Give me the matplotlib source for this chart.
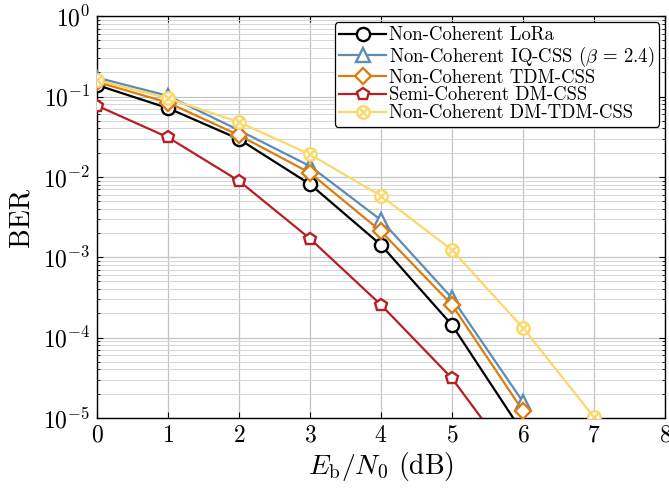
import numpy as np
import matplotlib
matplotlib.use("Agg")
import matplotlib.pyplot as plt
from matplotlib.path import Path
from matplotlib.ticker import LogLocator, NullFormatter

plt.rcParams['font.family'] = 'serif'
plt.rcParams['font.serif'] = ['cmr10', 'DejaVu Serif']
plt.rcParams['mathtext.fontset'] = 'cm'
plt.rcParams['axes.unicode_minus'] = False
plt.rcParams['axes.formatter.use_mathtext'] = True

snr = [0, 1, 2, 3, 4, 5, 6, 7]
lora = [0.139, 0.0717, 0.0295, 0.0081, 0.00142, 1.43e-4, 6.5e-6]
iq_css = [0.172, 0.102, 0.038, 0.0136, 0.0029, 3.1e-4, 1.58e-5]
tdm_css = [0.152, 0.084, 0.033, 0.0112, 0.0021, 2.55e-4, 1.22e-5]
dm_css = [0.077, 0.031, 0.0089, 0.0017, 2.55e-4, 3.1e-5, 2.0e-6]
dm_tdm_css = [0.16, 0.095, 0.048, 0.019, 0.0058, 0.00123, 1.32e-4, 1.02e-5]

labels = ["Non-Coherent LoRa",
          r"Non-Coherent IQ-CSS ($\beta$ = 2.4)",
          "Non-Coherent TDM-CSS",
          "Semi-Coherent DM-CSS",
          "Non-Coherent DM-TDM-CSS"]

colors = ['#000000', '#5b8db5', '#db7d10', '#b81f25', '#fcd868']

# circle with cross marker
c = Path.unit_circle()
d = 0.7071
cross = Path([(-d, -d), (d, d), (-d, d), (d, -d)],
             [Path.MOVETO, Path.LINETO, Path.MOVETO, Path.LINETO])
otimes = Path.make_compound_path(c, cross)

fig = plt.figure(figsize=(6.69, 4.91), dpi=100)
ax = fig.add_axes([0.145, 0.149, 0.849, 0.818])

series = [lora, iq_css, tdm_css, dm_css, dm_tdm_css]
markers = ['o', '^', 'D', 'p', otimes]
msizes = [9.5, 9.5, 8, 9, 9]
for s, m, ms, col, lab in zip(series, markers, msizes, colors, labels):
    ax.plot(snr[:len(s)], s, color=col, marker=m, markersize=ms,
            markerfacecolor='white', markeredgecolor=col, markeredgewidth=1.7,
            linewidth=1.6, label=lab, clip_on=True, zorder=3)

ax.set_yscale('log')
ax.set_xlim(0, 8)
ax.set_ylim(1e-5, 1)
ax.set_xticks(range(0, 9))
ax.yaxis.set_major_locator(LogLocator(base=10, numticks=10))
ax.yaxis.set_minor_locator(LogLocator(base=10, subs=np.arange(2, 10), numticks=20))
ax.yaxis.set_minor_formatter(NullFormatter())
ax.grid(True, which='major', color='#c4c4c4', linewidth=0.9)
ax.grid(True, which='minor', axis='y', color='#d6d6d6', linewidth=0.7)
ax.set_axisbelow(True)
ax.tick_params(axis='both', which='major', labelsize=17, direction='in', length=4,
               top=True, right=True, pad=5)
ax.tick_params(axis='y', which='minor', direction='in', length=2, right=True)
ax.set_xlabel(r'$E_{\mathrm{b}}/N_0$ (dB)', fontsize=20, labelpad=2)
ax.set_ylabel('BER', fontsize=20, labelpad=6)
for sp in ax.spines.values():
    sp.set_linewidth(1.0)

leg = ax.legend(loc='upper right', fontsize=13.5, frameon=True, fancybox=True,
                edgecolor='black', framealpha=1, borderpad=0.25, labelspacing=0.0,
                handlelength=2.5, handletextpad=0.15, borderaxespad=0.3)
leg.get_frame().set_linewidth(0.9)

fig.savefig('out.png', dpi=100)
